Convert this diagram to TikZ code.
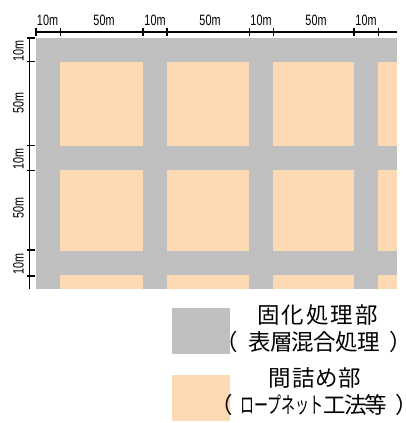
\documentclass[tikz,border=0pt]{standalone}
\usepackage{fontspec}
\setmainfont{Liberation Sans}
\newfontfamily\jp{Noto Sans CJK JP}
\newfontfamily\lblfont[FakeStretch=0.72]{Liberation Sans}
\definecolor{graycol}{RGB}{191,191,191}
\definecolor{peachcol}{RGB}{252,217,178}
\begin{document}
\begin{tikzpicture}[x=1pt,y=-1pt,
  axis/.style={line width=1.6pt,black},
  dim/.style={font=\lblfont\fontsize{15}{17}\selectfont,inner sep=0pt},
  jptext/.style={font=\jp\fontsize{22.5}{26}\selectfont,inner sep=0pt,
    text height=19pt,text depth=2pt,anchor=base}]
\useasboundingbox (0,0) rectangle (406,423);
% gray base
\fill[graycol] (35.7,37.7) rectangle (396.7,289);
% orange cells
\foreach \xa/\xb in {60.3/142.7,166.7/249.3,273.3/354,378.3/396.7}{
  \foreach \ya/\yb in {61.7/145.7,170/250.5,275/289}{
    \fill[peachcol] (\xa,\ya) rectangle (\xb,\yb);
  }
}
% top axis
\coordinate (ta) at (35,31.7);
\coordinate (tb) at (396.7,31.7);
\draw[axis] (ta) -- (tb);
\foreach \x in {35.7,60.3,142.7,166.7,249.3,273.3,354,378.3}{
  \draw[axis] (\x,27.5) -- (\x,36);
}
\node[dim] (t1) at (47.5,20) {10m};
\node[dim] (t2) at (104,20) {50m};
\node[dim] (t3) at (155,20) {10m};
\node[dim] (t4) at (210,20) {50m};
\node[dim] (t5) at (261,20) {10m};
\node[dim] (t6) at (316,20) {50m};
\node[dim] (t7) at (366,20) {10m};
% left axis
\coordinate (la) at (29.3,37.7);
\coordinate (lb) at (29.3,288.5);
\draw[axis] (la) -- (lb);
\foreach \y in {37.7,61.5,145.5,170.5,250,276}{
  \draw[axis] (26.5,\y) -- (35,\y);
}
\node[dim,rotate=90] (l1) at (18.5,51) {10m};
\node[dim,rotate=90] (l2) at (18.5,103) {50m};
\node[dim,rotate=90] (l3) at (18.5,159) {10m};
\node[dim,rotate=90] (l4) at (18.5,208) {50m};
\node[dim,rotate=90] (l5) at (18.5,264) {10m};
% legend
\fill[graycol] (171.7,308.3) rectangle (230,354.3);
\fill[peachcol] (171.7,375) rectangle (230,421);
\node[jptext] (g1) at (317.5,323.5) {\addfontfeature{LetterSpace=9}固化処理部};
\node[jptext] (g2) at (314,350) {（\hspace{10pt}\addfontfeature{LetterSpace=-3}表層混合処理\hspace{10pt}）};
\node[jptext] (o1) at (315,386.5) {\addfontfeature{LetterSpace=3}間詰め部};
\node[jptext] (o2) at (314,413.5) {（\hspace{8pt}\scalebox{0.62}[1]{ロープネット}{\addfontfeature{LetterSpace=-8}工法等}\hspace{8pt}）};
\end{tikzpicture}
\end{document}
